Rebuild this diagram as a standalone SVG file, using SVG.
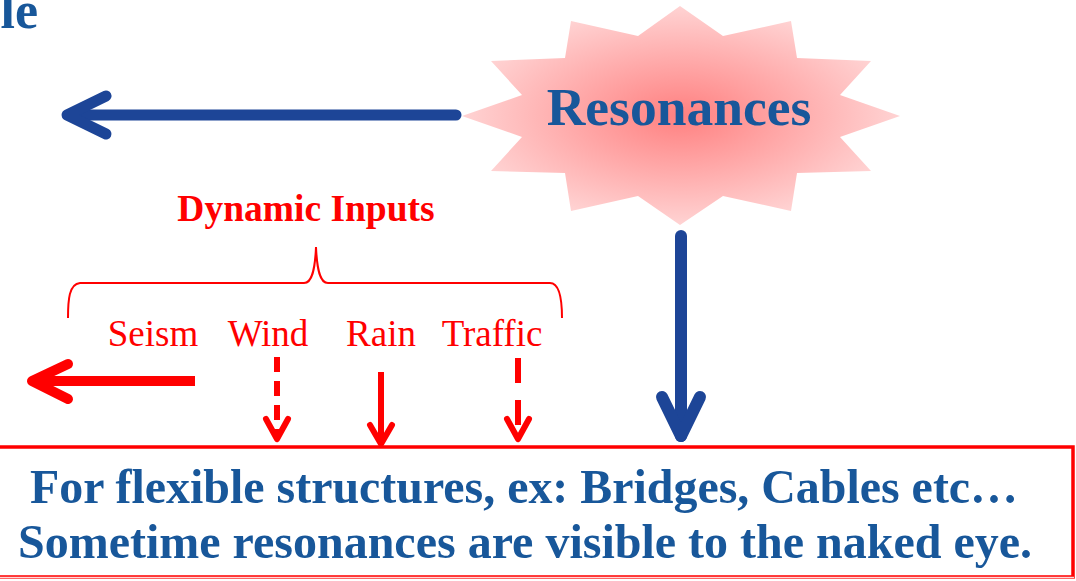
<svg xmlns="http://www.w3.org/2000/svg" width="1076" height="581" viewBox="0 0 1076 581">
<defs>
<radialGradient id="burst" cx="0.5" cy="0.5" r="0.5">
<stop offset="0" stop-color="#ff8080"/>
<stop offset="1" stop-color="#ffd3d3"/>
</radialGradient>
</defs>
<style>
.blue{fill:#18579a;font-family:"Liberation Serif","Times New Roman",serif;font-weight:bold}
.red{fill:#ff0000;font-family:"Liberation Serif","Times New Roman",serif}
.barrow{stroke:#1d4597;fill:none;stroke-linecap:round;stroke-linejoin:round}
.rarrow{stroke:#ff0000;fill:none;stroke-linejoin:round}
</style>
<rect width="1076" height="581" fill="#ffffff"/>
<text class="blue" x="38" y="28" font-size="52" text-anchor="end">le</text>

<g id="resonances">
<polygon fill="url(#burst)" points="680,6 723,36 791,21 797,58 871,61 840,95 900,116 840,137 871,171 797,173 791,211 723,196 680,225 638,196 571,211 565,173 491,171 522,137 462,116 522,95 491,61 565,58 571,21 638,36"/>
<text class="blue" x="679" y="125" font-size="53.5" text-anchor="middle">Resonances</text>
</g>

<g id="dynamic-inputs">
<text class="red" x="306" y="221" font-size="37.5" font-weight="bold" text-anchor="middle">Dynamic Inputs</text>
<path d="M68,318 C68,300 69,284 80,283 L304,283 C312,283 315,270 316,247 C317,270 320,283 328,283 L550,283 C560,283 562,300 562,318" fill="none" stroke="#ff0000" stroke-width="2"/>
<text class="red" x="153" y="346" font-size="37" text-anchor="middle">Seism</text>
<text class="red" x="268" y="346" font-size="37" text-anchor="middle">Wind</text>
<text class="red" x="381" y="346" font-size="37" text-anchor="middle">Rain</text>
<text class="red" x="492" y="346" font-size="37" text-anchor="middle">Traffic</text>
</g>

<g id="statement">
<rect x="-5" y="447" width="1078" height="130" fill="#ffffff" stroke="#ff0000" stroke-width="3.5"/>
<line x1="0" y1="577.5" x2="1074" y2="577.5" stroke="#ffd8d8" stroke-width="1.5"/>
<text class="blue" x="30" y="503" font-size="49" textLength="988" lengthAdjust="spacingAndGlyphs">For flexible structures, ex: Bridges, Cables etc…</text>
<text class="blue" x="18" y="558" font-size="49" textLength="1014" lengthAdjust="spacingAndGlyphs">Sometime resonances are visible to the naked eye.</text>
</g>

<g id="connectors">
<line class="barrow" x1="456" y1="115" x2="70" y2="115" stroke-width="11" stroke-linecap="butt"/>
<polyline class="barrow" points="106,96 67,115 106,134" stroke-width="11"/>
<line class="barrow" x1="681" y1="236" x2="681" y2="436" stroke-width="12" stroke-linecap="butt"/>
<polyline class="barrow" points="662,397 681,436 700,397" stroke-width="12"/>

<line class="rarrow" x1="195" y1="381" x2="34" y2="381" stroke-width="10"/>
<polyline class="rarrow" points="68,364 32,381 68,399" stroke-width="10" stroke-linecap="round"/>

<line class="rarrow" x1="277" y1="357" x2="277" y2="437" stroke-width="6" stroke-dasharray="15 9"/>
<polyline class="rarrow" points="266,419 277,439 288,419" stroke-width="6" stroke-linecap="round"/>

<line class="rarrow" x1="381" y1="372" x2="381" y2="443" stroke-width="6"/>
<polyline class="rarrow" points="370,425 381,444 392,425" stroke-width="6" stroke-linecap="round"/>

<line class="rarrow" x1="518" y1="358" x2="518" y2="437" stroke-width="6" stroke-dasharray="25 17"/>
<polyline class="rarrow" points="507,419 518,439 529,419" stroke-width="6" stroke-linecap="round"/>
</g>
</svg>
